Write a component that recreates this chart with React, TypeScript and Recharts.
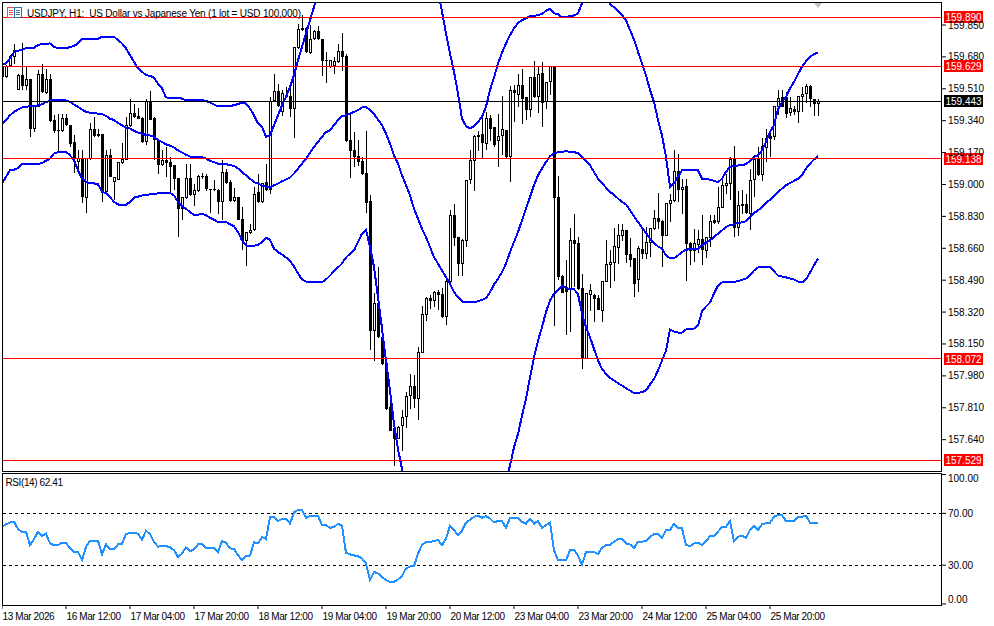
import React from "react";
import { ComposedChart, Bar, Line, XAxis, YAxis, ReferenceLine } from "recharts";

const opens = [
159.627,159.574,159.631,159.681,159.506,159.583,159.524,159.560,159.296,159.414,
159.588,159.490,159.561,159.343,159.286,159.286,159.351,159.316,159.223,159.122,
159.138,158.930,159.138,159.293,159.266,159.268,158.960,159.156,159.013,159.026,
159.117,159.133,159.311,159.378,159.360,159.351,159.227,159.444,159.351,159.236,
159.102,159.129,159.117,159.102,159.031,158.868,158.930,159.031,158.942,158.965,
159.040,159.040,158.974,158.974,158.969,158.907,159.063,159.010,158.912,158.933,
158.814,158.699,158.743,158.755,158.955,158.907,159.008,158.969,159.444,159.494,
159.387,159.476,159.471,159.401,159.730,159.832,159.832,159.702,159.773,159.818,
159.775,159.659,159.627,159.631,159.654,159.711,159.684,159.236,159.182,159.150,
159.120,159.058,158.907,158.218,158.364,158.186,158.044,157.813,157.697,157.644,
157.715,157.759,157.871,157.926,157.857,158.103,158.302,158.391,158.378,158.426,
158.412,158.293,158.480,158.836,158.716,158.574,158.699,159.022,159.126,159.254,
159.268,159.218,159.351,159.303,159.232,159.257,159.289,159.147,159.503,159.476,
159.529,159.462,159.399,159.570,159.467,159.592,159.440,159.544,159.627,158.930,
158.510,158.449,158.435,158.702,158.684,158.444,158.071,158.409,158.409,158.391,
158.325,158.480,158.572,158.583,158.663,158.725,158.755,158.627,158.604,158.489,
158.652,158.627,158.690,158.761,158.818,158.805,158.725,158.898,158.912,159.069,
158.969,158.990,158.684,158.645,158.675,158.706,158.645,158.716,158.809,158.800,
158.876,158.994,159.001,159.133,158.770,158.894,158.894,158.844,159.022,159.138,
159.049,159.197,159.257,159.254,159.414,159.463,159.463,159.382,159.401,159.387,
159.467,159.480,159.524,159.455,159.431];

const closes = [
159.574,159.627,159.681,159.716,159.583,159.524,159.560,159.296,159.414,159.588,
159.494,159.561,159.339,159.286,159.284,159.351,159.316,159.218,159.138,159.138,
158.933,159.138,159.293,159.259,159.259,158.960,159.156,159.040,159.037,159.117,
159.133,159.316,159.378,159.360,159.351,159.227,159.444,159.346,159.236,159.102,
159.129,159.117,159.093,159.031,158.868,158.930,159.031,158.942,158.969,159.044,
159.038,158.974,158.973,158.971,158.907,159.063,159.010,158.912,158.930,158.809,
158.699,158.743,158.755,158.946,158.907,159.005,158.973,159.444,159.494,159.419,
159.485,159.467,159.401,159.730,159.826,159.823,159.707,159.773,159.818,159.775,
159.659,159.657,159.663,159.654,159.707,159.681,159.232,159.179,159.147,159.120,
159.058,158.901,158.218,158.364,158.186,158.044,157.804,157.688,157.644,157.706,
157.759,157.871,157.926,157.857,158.106,158.305,158.391,158.378,158.426,158.409,
158.293,158.485,158.836,158.716,158.574,158.699,159.022,159.129,159.257,159.262,
159.222,159.351,159.298,159.209,159.257,159.293,159.147,159.503,159.485,159.529,
159.458,159.399,159.570,159.467,159.588,159.435,159.544,159.627,158.930,158.506,
158.421,158.426,158.702,158.681,158.444,158.071,158.417,158.435,158.391,158.329,
158.483,158.574,158.583,158.667,158.729,158.755,158.622,158.595,158.471,158.658,
158.627,158.693,158.764,158.818,158.800,158.725,158.898,158.916,159.069,158.973,
158.983,158.684,158.645,158.684,158.706,158.649,158.716,158.805,158.795,158.876,
158.996,159.005,159.133,158.770,158.889,158.885,158.848,159.022,159.133,159.049,
159.200,159.245,159.243,159.414,159.458,159.414,159.378,159.405,159.387,159.467,
159.480,159.524,159.453,159.431,159.443];

const highs = [
159.636,159.636,159.689,159.748,159.588,159.752,159.627,159.560,159.417,159.609,
159.641,159.618,159.588,159.369,159.375,159.375,159.375,159.316,159.262,159.182,
159.182,159.138,159.328,159.360,159.298,159.268,159.182,159.188,159.040,159.120,
159.222,159.360,159.455,159.431,159.405,159.360,159.453,159.497,159.360,159.245,
159.182,159.200,159.147,159.102,159.031,158.933,159.111,159.111,159.005,159.049,
159.061,159.058,158.974,159.026,158.978,159.129,159.085,159.022,158.983,158.933,
158.880,158.747,158.791,158.987,159.058,159.008,159.111,159.467,159.588,159.538,
159.503,159.517,159.538,159.730,159.858,159.903,159.841,159.850,159.823,159.844,
159.778,159.707,159.663,159.681,159.748,159.805,159.698,159.387,159.280,159.239,
159.147,159.286,158.942,158.423,158.560,158.257,158.053,157.866,157.724,157.715,
157.800,157.896,157.990,157.982,158.133,158.350,158.403,158.409,158.430,158.435,
158.449,158.498,158.862,158.898,158.716,158.711,159.022,159.182,159.262,159.286,
159.360,159.387,159.369,159.307,159.375,159.471,159.293,159.524,159.529,159.588,
159.618,159.467,159.574,159.657,159.627,159.654,159.547,159.631,159.627,159.044,
158.515,158.595,158.768,158.844,158.720,158.524,158.421,158.471,158.417,158.409,
158.483,158.706,158.649,158.770,158.791,158.791,158.755,158.716,158.604,158.670,
158.773,158.773,158.764,158.862,158.955,158.809,158.901,158.948,159.186,159.165,
159.031,159.031,158.693,158.764,158.755,158.836,158.716,158.836,158.836,158.987,
159.044,159.058,159.147,159.204,158.965,158.973,158.951,159.085,159.156,159.200,
159.250,159.298,159.293,159.417,159.503,159.503,159.494,159.467,159.417,159.471,
159.517,159.538,159.529,159.458,159.458];

const lows = [
159.570,159.565,159.627,159.641,159.503,159.499,159.503,159.250,159.280,159.410,
159.488,159.485,159.334,159.271,159.165,159.280,159.311,159.200,159.058,159.067,
158.898,158.848,159.133,159.254,159.257,158.907,158.955,159.037,158.916,159.022,
159.111,159.129,159.307,159.357,159.346,159.223,159.209,159.343,159.129,159.058,
159.097,159.040,158.955,158.969,158.720,158.809,158.925,158.939,158.889,158.960,
159.031,158.969,158.848,158.965,158.844,158.809,159.005,158.907,158.907,158.809,
158.649,158.565,158.738,158.752,158.901,158.901,158.965,158.951,159.440,159.414,
159.364,159.464,159.364,159.250,159.725,159.819,159.702,159.698,159.770,159.770,
159.581,159.542,159.618,159.588,159.645,159.601,159.227,159.037,159.093,159.102,
159.049,158.848,158.115,158.058,158.183,158.040,157.795,157.685,157.501,157.644,
157.581,157.702,157.804,157.804,157.745,158.097,158.275,158.337,158.346,158.329,
158.289,158.254,158.453,158.675,158.515,158.515,158.667,159.001,158.965,159.182,
159.143,159.182,159.232,159.200,159.093,159.156,159.138,159.013,159.334,159.414,
159.325,159.346,159.360,159.458,159.382,159.307,159.405,159.476,158.248,158.489,
158.417,158.195,158.213,158.453,158.435,158.017,158.071,158.329,158.266,158.329,
158.266,158.480,158.444,158.489,158.578,158.702,158.578,158.560,158.400,158.426,
158.604,158.604,158.613,158.755,158.764,158.560,158.723,158.800,158.908,158.907,
158.844,158.489,158.569,158.586,158.631,158.569,158.610,158.667,158.788,158.791,
158.873,158.951,158.919,158.720,158.723,158.844,158.844,158.759,158.933,159.044,
159.022,159.120,159.147,159.236,159.369,159.410,159.357,159.364,159.369,159.328,
159.382,159.435,159.410,159.369,159.369];

const bbUpper = [
159.641,159.645,159.672,159.704,159.713,159.716,159.727,159.729,159.729,159.743,
159.750,159.750,159.752,159.734,159.727,159.727,159.727,159.732,159.738,159.752,
159.777,159.777,159.777,159.777,159.777,159.787,159.787,159.787,159.787,159.770,
159.752,159.725,159.689,159.654,159.618,159.601,159.583,159.579,159.570,159.538,
159.512,159.464,159.462,159.462,159.460,159.458,159.449,159.449,159.449,159.449,
159.449,159.446,159.437,159.426,159.417,159.417,159.417,159.417,159.423,159.428,
159.437,159.431,159.405,159.369,159.325,159.307,159.254,159.262,159.316,159.369,
159.423,159.467,159.520,159.583,159.663,159.734,159.805,159.876,159.947,160.019,
160.09,160.15,160.2,160.25,160.3,160.34,160.42,160.5,160.58,160.66,
160.74,160.82,160.95,161.05,161.15,161.2,161.3,161.35,161.4,161.38,
161.3,161.2,161.1,160.95,160.8,160.65,160.5,160.35,160.2,160.03,
159.921,159.805,159.698,159.601,159.485,159.351,159.311,159.298,159.311,159.334,
159.360,159.414,159.503,159.570,159.645,159.702,159.752,159.796,159.832,159.862,
159.876,159.885,159.899,159.898,159.903,159.908,159.926,159.937,159.912,159.908,
159.890,159.890,159.898,159.901,159.912,159.965,160.0,160.02,160.04,160.05,
160.04,160.0,159.962,159.944,159.924,159.903,159.876,159.823,159.773,159.707,
159.645,159.583,159.503,159.440,159.343,159.262,159.147,158.987,159.005,159.040,
159.076,159.078,159.078,159.078,159.076,159.031,159.029,159.026,159.019,159.012,
159.031,159.067,159.093,159.099,159.101,159.104,159.108,159.126,159.147,159.156,
159.182,159.227,159.280,159.316,159.399,159.440,159.467,159.512,159.547,159.588,
159.627,159.657,159.681,159.695,159.704];

const bbMiddle = [
159.321,159.343,159.369,159.387,159.399,159.410,159.414,159.417,159.417,159.421,
159.428,159.439,159.446,159.449,159.451,159.451,159.448,159.440,159.426,159.414,
159.399,159.387,159.383,159.380,159.378,159.375,159.366,159.351,159.343,159.328,
159.316,159.303,159.298,159.286,159.277,159.270,159.264,159.261,159.254,159.236,
159.227,159.214,159.207,159.197,159.182,159.170,159.159,159.149,159.147,159.145,
159.145,159.138,159.126,159.120,159.111,159.108,159.108,159.104,159.099,159.085,
159.067,159.049,159.031,159.013,159.005,158.994,158.987,158.983,158.996,159.005,
159.017,159.026,159.037,159.058,159.085,159.111,159.138,159.168,159.200,159.227,
159.254,159.279,159.289,159.316,159.343,159.364,159.369,159.378,159.387,159.396,
159.410,159.414,159.396,159.375,159.346,159.316,159.271,159.218,159.156,159.111,
159.049,158.996,158.942,158.871,158.818,158.764,158.720,158.667,158.613,158.578,
158.542,158.506,158.471,158.426,158.400,158.377,158.371,158.373,158.373,158.378,
158.385,158.394,158.426,158.467,158.498,158.533,158.578,158.640,158.693,158.747,
158.809,158.871,158.933,158.996,159.049,159.085,159.120,159.150,159.165,159.172,
159.175,159.177,159.174,159.172,159.168,159.147,159.124,159.102,159.067,159.031,
159.008,158.983,158.960,158.946,158.925,158.907,158.894,158.862,158.830,158.800,
158.770,158.741,158.711,158.688,158.670,158.658,158.622,158.608,158.608,158.622,
158.640,158.652,158.656,158.658,158.658,158.675,158.690,158.702,158.720,158.738,
158.755,158.773,158.784,158.788,158.795,158.798,158.804,158.827,158.848,158.862,
158.880,158.903,158.919,158.937,158.960,158.978,158.996,159.008,159.019,159.031,
159.049,159.085,159.111,159.133,159.152];

const bbLower = [
159.005,159.040,159.076,159.079,159.088,159.108,159.108,159.108,159.110,159.108,
159.115,159.126,159.138,159.165,159.172,159.174,159.174,159.156,159.129,159.076,
159.031,159.013,159.006,159.006,159.001,158.960,158.955,158.933,158.907,158.894,
158.889,158.892,158.907,158.930,158.935,158.941,158.944,158.948,158.949,158.953,
158.956,158.956,158.955,158.942,158.907,158.884,158.871,158.853,158.839,158.839,
158.844,158.836,158.823,158.812,158.800,158.800,158.800,158.788,158.777,158.747,
158.702,158.675,158.670,158.674,158.679,158.693,158.716,158.706,158.658,158.640,
158.627,158.611,158.594,158.563,158.526,158.494,158.483,158.480,158.478,158.478,
158.480,158.494,158.515,158.537,158.558,158.579,158.611,158.631,158.649,158.693,
158.738,158.759,158.667,158.560,158.400,158.231,158.062,157.902,157.724,157.590,
157.484,157.30,157.12,156.95,156.8,156.7,156.6,156.5,156.4,156.3,
156.25,156.2,156.2,156.2,156.25,156.3,156.4,156.5,156.6,156.7,
156.8,156.95,157.05,157.15,157.25,157.35,157.43,157.501,157.599,157.670,
157.768,157.857,157.973,158.079,158.168,158.240,158.320,158.382,158.417,158.435,
158.462,158.449,158.442,158.441,158.417,158.311,158.240,158.186,158.124,158.062,
158.017,157.990,157.969,157.955,157.941,157.928,157.914,157.902,157.887,157.889,
157.893,157.902,157.934,157.964,158.008,158.062,158.115,158.227,158.216,158.211,
158.211,158.227,158.232,158.232,158.248,158.323,158.350,158.371,158.419,158.462,
158.478,158.478,158.478,158.480,158.485,158.492,158.499,158.515,158.542,158.558,
158.558,158.558,158.558,158.537,158.515,158.510,158.505,158.499,158.494,158.483,
158.478,158.494,158.531,158.569,158.606];

const rsiValues = [
59.7,61.5,63.0,63.5,57.9,55.8,55.8,45.5,50.1,55.8,
52.7,54.3,46.8,45.5,45.5,47.3,47.3,42.9,40.3,40.3,
33.9,44.2,48.8,48.8,48.8,38.5,46.0,42.4,42.4,46.0,
46.5,54.0,55.0,55.0,54.3,49.6,56.6,54.0,48.1,44.2,
45.0,44.7,43.9,41.6,36.2,39.0,43.7,40.8,42.1,46.0,
46.3,43.4,43.4,43.4,40.1,48.6,47.3,42.9,42.6,37.7,
33.9,37.0,37.5,47.8,46.8,51.7,50.1,67.2,67.2,64.1,
65.6,65.9,62.0,70.8,72.6,72.8,66.6,67.9,68.2,67.9,
61.0,61.0,58.9,59.4,62.0,60.4,39.5,38.3,37.5,37.0,
35.2,31.3,18.4,24.8,23.6,21.0,18.4,17.1,17.1,18.9,
21.7,27.4,29.0,29.2,39.0,45.5,47.8,47.8,48.6,49.4,
45.5,50.6,60.4,57.1,53.2,56.6,63.0,65.1,67.4,68.2,
66.6,67.9,66.1,63.0,64.1,64.1,58.9,66.6,66.6,66.6,
63.5,62.0,65.9,62.0,64.1,58.9,61.0,62.8,41.6,33.9,
33.9,33.9,41.6,41.9,37.2,30.5,40.1,40.1,40.1,38.5,
43.4,45.5,45.5,48.1,50.1,50.6,46.8,46.0,43.2,48.1,
48.1,48.6,51.7,54.0,54.0,51.2,57.1,57.1,62.0,58.4,
58.4,45.5,44.7,46.8,47.3,45.5,48.6,52.4,52.4,55.8,
59.4,59.7,64.1,48.6,51.9,52.7,51.2,57.1,60.4,57.1,
61.7,62.3,62.8,67.4,68.7,68.7,64.1,64.1,64.1,67.2,
67.4,68.2,62.8,62.5,62.41];

const timeLabels = ["13 Mar 2026","16 Mar 12:00","17 Mar 04:00","17 Mar 20:00","18 Mar 12:00","19 Mar 04:00","19 Mar 20:00","20 Mar 12:00","23 Mar 04:00","23 Mar 20:00","24 Mar 12:00","25 Mar 04:00","25 Mar 20:00"];
const priceTicks = [159.85,159.68,159.51,159.34,159.17,159.0,158.83,158.66,158.49,158.32,158.15,157.98,157.81,157.64];
const rsiTicks = [100,70,30,0];
const rsiLevels = [70,30];
const redLevels = [159.89,159.629,159.138,158.072,157.529];
const currentPrice = 159.443;
const titleText = "USDJPY, H1:  US Dollar vs Japanese Yen (1 lot = USD 100,000)";
const rsiText = "RSI(14) 62.41";
const BAR_EVERY = 16;
const BLANK_BARS = 30;

const rows = Array.from({ length: opens.length + BLANK_BARS }, (_, i) => ({
  t: i % BAR_EVERY === 0 && timeLabels[i / BAR_EVERY] ? timeLabels[i / BAR_EVERY] : `bar${i}`,
  open: opens[i] ?? null,
  close: closes[i] ?? null,
  high: highs[i] ?? null,
  low: lows[i] ?? null,
  range: highs[i] != null ? [lows[i], highs[i]] : null,
  upper: bbUpper[i] ?? null,
  middle: bbMiddle[i] ?? null,
  lower: bbLower[i] ?? null,
  rsi: rsiValues[i] ?? null,
}));

const FONT = "'Liberation Sans', Arial, sans-serif";
const TICK_SIZE = 10;
const TIGHT = -0.4;

function Candle(props: any) {
  const { x, y, width, height, payload } = props;
  if (!payload || payload.high == null || !(height > 0)) return null;
  const k = height / (payload.high - payload.low);
  const cx = Math.round(x + width / 2);
  const top = y + (payload.high - Math.max(payload.open, payload.close)) * k;
  const bot = y + (payload.high - Math.min(payload.open, payload.close)) * k;
  const yT = Math.floor(top);
  const yB = Math.max(Math.round(bot), yT + 1);
  const bull = payload.close > payload.open;
  return (
    <g shapeRendering="crispEdges">
      <rect x={cx} y={Math.round(y)} width={1} height={Math.max(1, Math.round(height))} fill="#000" />
      {bull ? (
        <rect x={cx - 0.5} y={yT + 0.5} width={2} height={Math.max(yB - yT - 1, 0)} fill="#fff" stroke="#000" strokeWidth={1} />
      ) : (
        <rect x={cx - 1} y={yT} width={3} height={yB - yT} fill="#000" />
      )}
    </g>
  );
}

function LevelTag(props: any) {
  const { viewBox, value, fill } = props;
  const y = viewBox.y;
  return (
    <g shapeRendering="crispEdges">
      <rect x={944} y={Math.round(y) - 6} width={39} height={12} fill={fill} />
      <text x={963.5} y={y + 0.5} fill="#fff" fontSize={TICK_SIZE} fontFamily={FONT} textAnchor="middle" dominantBaseline="central" shapeRendering="auto">
        {value}
      </text>
    </g>
  );
}

function RsiTick(props: any) {
  const { x, y, payload } = props;
  const dy = payload.value === 100 ? 4 : payload.value === 0 ? -4 : 0;
  return (
    <text x={x} y={y + dy} fill="#000" fontSize={TICK_SIZE} fontFamily={FONT} dominantBaseline="central">
      {payload.value.toFixed(2)}
    </text>
  );
}

function PriceTick(props: any) {
  const { x, y, payload } = props;
  return (
    <text x={x} y={y} fill="#000" fontSize={TICK_SIZE} fontFamily={FONT} dominantBaseline="central">
      {payload.value.toFixed(3)}
    </text>
  );
}

function TimeTick(props: any) {
  const { x, y, payload } = props;
  return (
    <text x={x + 0.5} y={y + 6} fill="#000" fontSize={TICK_SIZE} fontFamily={FONT} letterSpacing={TIGHT} dominantBaseline="central">
      {payload.value}
    </text>
  );
}

const box = (top: number, height: number): React.CSSProperties => ({
  position: "absolute", left: 2, top, width: 940, height, boxSizing: "border-box",
  border: "1px solid #000", pointerEvents: "none",
});

export default function App() {
  return (
    <div style={{ position: "absolute", left: 0, top: 0, width: 994, height: 626, background: "#fff", overflow: "hidden", fontFamily: FONT }}>
      <div style={{ position: "absolute", left: 0, top: 0 }}>
        <ComposedChart width={994} height={472} data={rows} margin={{ top: 2, right: 0, bottom: 1, left: 0 }} barCategoryGap={0} barGap={0}>
          <XAxis dataKey="t" hide scale="band" padding={{ left: 0, right: 2 }} interval={0} />
          <YAxis orientation="right" width={52} domain={[157.473, 159.9726]} allowDataOverflow ticks={priceTicks} interval={0} tick={<PriceTick />} tickSize={4} tickMargin={2} axisLine={false} stroke="#000" />
          <Bar dataKey="range" shape={<Candle />} isAnimationActive={false} />
          <Line dataKey="upper" stroke="#0000ff" strokeWidth={2} dot={false} isAnimationActive={false} shapeRendering="crispEdges" />
          <Line dataKey="middle" stroke="#0000ff" strokeWidth={2} dot={false} isAnimationActive={false} shapeRendering="crispEdges" />
          <Line dataKey="lower" stroke="#0000ff" strokeWidth={2} dot={false} isAnimationActive={false} shapeRendering="crispEdges" />
          {redLevels.map((v) => (
            <ReferenceLine key={v} y={v} stroke="#ff0000" strokeWidth={1} shapeRendering="crispEdges" label={<LevelTag value={v.toFixed(3)} fill="#ff0000" />} />
          ))}
          <ReferenceLine y={currentPrice} stroke="#000" strokeWidth={1} shapeRendering="crispEdges" label={<LevelTag value={currentPrice.toFixed(3)} fill="#000" />} />
        </ComposedChart>
      </div>
      <div style={{ position: "absolute", left: 0, top: 0 }}>
        <ComposedChart width={994} height={626} data={rows} margin={{ top: 473, right: 0, bottom: 0, left: 0 }} barCategoryGap={0}>
          <XAxis dataKey="t" scale="band" padding={{ left: 0, right: 2 }} height={21} ticks={timeLabels} interval={0} tick={<TimeTick />} tickSize={4} tickMargin={1} axisLine={false} stroke="#000" />
          <YAxis orientation="right" width={52} domain={[-0.8, 101.2]} allowDataOverflow ticks={rsiTicks} interval={0} tick={<RsiTick />} tickSize={4} tickMargin={2} axisLine={false} stroke="#000" />
          {rsiLevels.map((v) => (
            <ReferenceLine key={v} y={v} stroke="#000" strokeWidth={1} strokeDasharray="3 3" shapeRendering="crispEdges" />
          ))}
          <Line dataKey="rsi" stroke="#1e90ff" strokeWidth={2} dot={false} isAnimationActive={false} shapeRendering="crispEdges" />
        </ComposedChart>
      </div>
      <div style={box(2, 470)} />
      <div style={box(473, 133)} />
      <div style={{ position: "absolute", left: 0, top: 0, width: 2, height: 626, background: "#fff" }} />
      <div style={{ position: "absolute", left: 814, top: 3, width: 0, height: 0, borderLeft: "4px solid transparent", borderRight: "4px solid transparent", borderTop: "5px solid #c0c0c0" }} />
      <svg style={{ position: "absolute", left: 7, top: 7 }} width={16} height={12} shapeRendering="crispEdges">
        <rect x={0.5} y={0.5} width={7} height={10} fill="#fff" stroke="#e8503a" />
        <rect x={7.5} y={0.5} width={7} height={10} fill="#fff" stroke="#2a6fb0" />
        <path d="M2 3.5h4M2 5.5h4M2 7.5h4" stroke="#e8503a" />
        <path d="M9 3.5h4M9 5.5h4M9 7.5h4" stroke="#2a6fb0" />
      </svg>
      <div style={{ position: "absolute", left: 27, top: 7, fontSize: 10, letterSpacing: -0.2, lineHeight: "13px", color: "#000", whiteSpace: "pre" }}>{titleText}</div>
      <div style={{ position: "absolute", left: 5.5, top: 477, fontSize: 10, letterSpacing: TIGHT, lineHeight: "12px", color: "#000", whiteSpace: "pre" }}>{rsiText}</div>
    </div>
  );
}
